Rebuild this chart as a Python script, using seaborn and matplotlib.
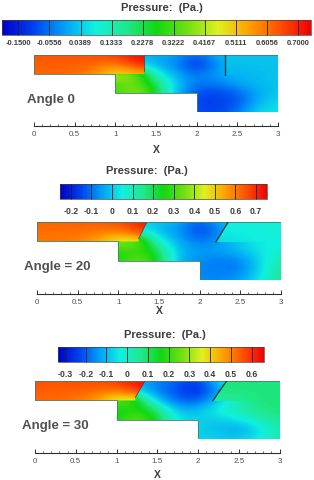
import matplotlib
matplotlib.use('Agg')
import numpy as np
import matplotlib.pyplot as plt
from matplotlib.patches import Polygon
from matplotlib.cm import ScalarMappable
from matplotlib.colors import Normalize
from matplotlib.ticker import MultipleLocator
import seaborn as sns

W, H = 314, 480

# Colour stops of the contour legend
stops = ['#0000c8', '#0040f0', '#00a0f8', '#10f0e0', '#20e890', '#10d810',
         '#70e010', '#e0f020', '#ffa000', '#ff5000', '#f00000']

# Grid positions (x along the duct, t down from the top wall)
x_inlet = [0, 0.25, 0.5, 0.75, 1, 1.25, 1.5]
t_inlet = [0, 0.12, 0.24]
x_body = [1, 1.25, 1.5, 1.75, 2, 2.25, 2.5, 2.75, 3]
t_body = [0, 0.12, 0.24, 0.36, 0.47, 0.59, 0.70]
x_outlet = [2, 2.25, 2.5, 2.75, 3]
t_outlet = [0, 0.12, 0.24]
x_ticks = [0, 0.5, 1, 1.5, 2, 2.5, 3]
x_tick_labels = ['0', '0.5', '1', '1.5', '2', '2.5', '3']

# Angle 0
inlet_0 = [[.64, .64, .64, .65, .67, .73, .74],
           [.63, .63, .63, .62, .60, .69, .73],
           [.62, .62, .61, .57, .46, .50, .55]]
body_0 = [[0, .02, .01, -.01, -.08, .02, .03, .03, .03],
          [.02, .06, 0, -.03, -.14, -.03, .05, .03, .03],
          [.46, .40, .10, 0, -.06, 0, .01, .02, .03],
          [.33, .36, .22, .03, -.05, -.05, 0, .02, .03],
          [.30, .42, .28, .02, -.10, -.10, -.08, 0, .04],
          [.30, .40, .20, -.03, -.11, -.11, -.09, .01, .06],
          [.30, .40, .20, -.03, -.10, -.10, -.06, .06, .07]]
outlet_0 = [[.03, .03, .03, .03, .03],
            [.03, .03, .03, .03, .03],
            [0, .01, .01, .02, .03]]
levels_0 = [-0.15, -0.0556, 0.0389, 0.1333, 0.2278, 0.3222, 0.4167, 0.5111, 0.6056, 0.70]
labels_0 = ['-0.1500', '-0.0556', '0.0389', '0.1333', '0.2278', '0.3222',
            '0.4167', '0.5111', '0.6056', '0.7000']

# Angle 20
inlet_20 = [[.63, .63, .64, .64, .66, .71, .75],
            [.61, .61, .61, .60, .58, .67, .73],
            [.60, .60, .59, .54, .42, .42, .50]]
body_20 = [[.03, .03, 0, -.03, -.13, -.02, .03, .05, .05],
           [.03, .03, -.02, -.06, -.16, -.08, .01, .05, .05],
           [.42, .40, .05, -.04, -.10, -.05, .01, .05, .05],
           [.26, .28, .20, -.03, -.05, -.05, -.01, .04, .07],
           [.25, .37, .25, -.03, -.07, -.09, -.08, .02, .12],
           [.25, .35, .20, -.04, -.08, -.09, -.09, .02, .15],
           [.25, .35, .20, -.04, -.07, -.07, -.05, .05, .16]]
outlet_20 = [[.05, .05, .05, .06, .06],
             [.05, .05, .05, .06, .06],
             [.01, .02, .03, .05, .05]]
levels_20 = [-0.2, -0.1, 0, 0.1, 0.2, 0.3, 0.4, 0.5, 0.6, 0.7]
labels_20 = ['-0.2', '-0.1', '0', '0.1', '0.2', '0.3', '0.4', '0.5', '0.6', '0.7']

# Angle 30
inlet_30 = [[.56, .56, .56, .57, .59, .64, .66],
            [.54, .54, .54, .53, .50, .60, .65],
            [.53, .53, .51, .46, .33, .30, .35]]
body_30 = [[0, -.10, -.16, -.20, -.25, -.06, .05, .08, .08],
           [0, -.10, -.17, -.22, -.28, -.14, -.03, .08, .08],
           [.30, .20, -.12, -.20, -.22, -.09, .03, .08, .08],
           [.14, .18, .10, -.12, -.10, -.02, .03, .08, .08],
           [.15, .28, .15, -.05, -.07, -.08, -.05, .02, .07],
           [.15, .25, .10, -.05, -.08, -.10, -.13, -.07, .04],
           [.15, .25, .10, -.05, -.07, -.07, -.08, -.03, .04]]
outlet_30 = [[.08, .08, .08, .08, .08],
             [.08, .08, .08, .08, .08],
             [.03, .04, .05, .08, .08]]
levels_30 = [-0.3, -0.2, -0.1, 0, 0.1, 0.2, 0.3, 0.4, 0.5, 0.6]
labels_30 = ['-0.3', '-0.2', '-0.1', '0', '0.1', '0.2', '0.3', '0.4', '0.5', '0.6']

sns.set_theme(style='white')
plt.rcParams['font.family'] = ['Liberation Sans', 'DejaVu Sans']
TXT = '#3c3c3c'
cmap = sns.blend_palette(stops, n_colors=256, as_cmap=True)

fig = plt.figure(figsize=(W / 100, H / 100), dpi=100)


def px_axes(x0, x1, y0, y1):
    # axes placed by pixel box, y measured from the top of the image
    return fig.add_axes([x0 / W, 1 - y1 / H, (x1 - x0) / W, (y1 - y0) / H])


def field(ax, xs, ts, vals, clip, norm):
    dx = xs[1] - xs[0]
    dt = ts[1] - ts[0]
    im = ax.imshow(vals, cmap=cmap, norm=norm, interpolation='bicubic', aspect='auto',
                   extent=[xs[0] - dx / 2, xs[-1] + dx / 2, ts[-1] + dt / 2, ts[0] - dt / 2])
    patch = Polygon(clip, closed=True, transform=ax.transData, fc='none', ec='none')
    ax.add_patch(patch)
    im.set_clip_path(patch)


def panel(box, cbar, title_xy, angle_xy, angle, vrange, levels, labels,
          inlet, body, outlet, gate1, gate2, xlabel_pad, cb_pad, cb_size):
    norm = Normalize(*vrange)

    # legend bar
    cax = px_axes(*cbar)
    cb = fig.colorbar(ScalarMappable(norm=norm, cmap=cmap), cax=cax, orientation='horizontal')
    cb.set_ticks(levels, labels=labels)
    cb.minorticks_off()
    cax.set_axisbelow(False)
    cax.tick_params(axis='x', direction='in', length=(cbar[3] - cbar[2]) * 0.72, width=0.6,
                    color='#202020', pad=cb_pad, labelsize=cb_size, labelcolor=TXT, bottom=True)
    for label in cax.get_xticklabels():
        label.set_fontweight('bold')
    cb.outline.set_linewidth(0.5)
    cb.outline.set_edgecolor('#404040')

    fig.text(title_xy[0] / W, 1 - title_xy[1] / H, 'Pressure:  (Pa.)', ha='center', va='center',
             fontsize=8, fontweight='bold', color=TXT)
    fig.text(angle_xy[0] / W, 1 - angle_xy[1] / H, angle, ha='left', va='center',
             fontsize=9.5, fontweight='bold', color='#505050')

    # duct
    ax = px_axes(*box)
    ax.set_facecolor('none')
    outline = [(0, 0), (3, 0), (3, .70), (2, .70), (2, .47), (1, .47), (1, .235), (0, .235)]
    field(ax, x_body, t_body, body, outline, norm)
    field(ax, x_outlet, t_outlet, outlet,
          [gate2[0], (3, 0), (3, .24), gate2[1]], norm)
    field(ax, x_inlet, t_inlet, inlet,
          [(0, 0), gate1[0], gate1[1], (gate1[1][0], .235), (0, .235)], norm)
    ax.add_patch(Polygon(outline, closed=True, fc='none', ec='#3f7f70', lw=0.6))
    ax.plot(*zip(*gate2), color='#104040', lw=1.0)
    ax.plot(*zip(*gate1), color='#803030', lw=0.6)

    ax.set_xlim(0, 3)
    ax.set_ylim(.70, 0)
    ax.set_yticks([])
    ax.set_xticks(x_ticks, labels=x_tick_labels)
    ax.xaxis.set_minor_locator(MultipleLocator(0.1))
    ax.tick_params(axis='x', which='major', direction='in', length=3.2, width=0.7, pad=4,
                   labelsize=5.8, labelcolor='#505050', color='#303030', bottom=True)
    ax.tick_params(axis='x', which='minor', direction='in', length=1.5, width=0.5,
                   color='#303030', bottom=True)
    sns.despine(ax=ax, left=True, offset={'bottom': 10})
    ax.spines['bottom'].set_linewidth(0.8)
    ax.spines['bottom'].set_color('#303030')
    ax.set_xlabel('X', fontsize=7.5, fontweight='bold', color=TXT, labelpad=xlabel_pad)


panel((34, 278, 55, 112), (2, 311, 20, 35), (162, 8), (27, 100), 'Angle 0', (-0.2, 0.74),
      levels_0, labels_0, inlet_0, body_0, outlet_0,
      [(1.35, 0), (1.35, .2)], [(2.35, 0), (2.35, .24)], 5, 3.5, 5.4)
panel((37, 281, 222, 280), (60, 267, 184, 199), (147, 171), (24, 267), 'Angle = 20', (-0.252, 0.753),
      levels_20, labels_20, inlet_20, body_20, outlet_20,
      [(1.35, 0), (1.25, .2)], [(2.35, 0), (2.2, .24)], -0.5, 5.5, 6.2)
panel((35, 279.5, 381, 439), (58, 264, 347, 362), (165, 335), (22, 426), 'Angle = 30', (-0.334, 0.66),
      levels_30, labels_30, inlet_30, body_30, outlet_30,
      [(1.35, 0), (1.23, .2)], [(2.35, 0), (2.18, .24)], 3, 5.5, 6.2)

fig.savefig('out.png', dpi=100)
